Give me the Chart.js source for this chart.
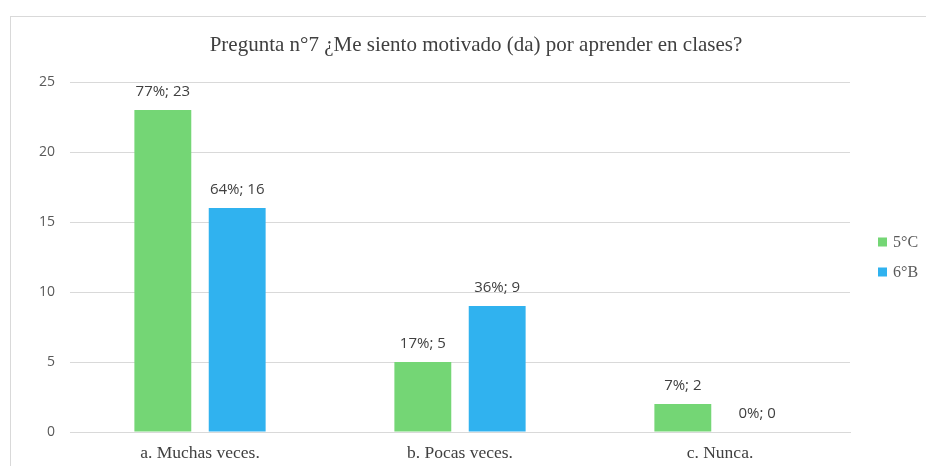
<!DOCTYPE html>
<html>
<head>
<meta charset="utf-8">
<script src="https://cdn.jsdelivr.net/npm/chart.js@4/dist/chart.umd.min.js"></script>
<style>
html,body{margin:0;padding:0;background:#fff;width:926px;height:466px;overflow:hidden;}
#frame{position:absolute;left:10px;top:16px;width:940px;height:470px;border:1px solid #d9d9d9;}
#wrap{position:absolute;left:0;top:0;width:926px;height:480px;}
</style>
</head>
<body>
<div id="frame"></div>
<div id="wrap"><canvas id="c" width="926" height="480"></canvas></div>
<script>
const categories = ["a. Muchas veces.", "b. Pocas veces.", "c. Nunca."];
const series5C = [23, 5, 2];
const series6B = [16, 9, 0];
const pct5C = [77, 17, 7];
const pct6B = [64, 36, 0];
const seriesNames = ["5°C", "6°B"];
const seriesColors = ["#74D675", "#30B2EF"];
const yTicks = [0, 5, 10, 15, 20, 25];
const titleText = "Pregunta n°7 ¿Me siento motivado (da) por aprender en clases?";

const SERIF = '"Liberation Serif", "Times New Roman", serif';
const SANS = '"Open Sans", "Liberation Sans", sans-serif';

const extras = {
  id: 'extras',
  afterDatasetsDraw(chart) {
    const ctx = chart.ctx;
    const pcts = [pct5C, pct6B];
    const area = chart.chartArea;
    ctx.save();
    // value labels
    ctx.font = '15px ' + SANS;
    ctx.fillStyle = '#404040';
    ctx.textAlign = 'center';
    ctx.textBaseline = 'middle';
    chart.data.datasets.forEach((ds, i) => {
      const meta = chart.getDatasetMeta(i);
      meta.data.forEach((bar, j) => {
        ctx.fillText(pcts[i][j] + '%; ' + ds.data[j], bar.x, bar.y - 18);
      });
    });
    // title
    ctx.font = '21px ' + SERIF;
    ctx.fillStyle = '#404040';
    ctx.textAlign = 'center';
    ctx.fillText(titleText, 476, 45);
    // legend
    const cy = (area.top + area.bottom) / 2;
    ctx.font = '16px ' + SERIF;
    ctx.textAlign = 'left';
    chart.data.datasets.forEach((ds, i) => {
      const y = cy - 15 + i * 30;
      ctx.fillStyle = ds.backgroundColor;
      ctx.fillRect(area.right + 28, y - 4.5, 9, 9);
      ctx.fillStyle = '#595959';
      ctx.fillText(ds.label, area.right + 43, y + 1);
    });
    ctx.restore();
  }
};

new Chart(document.getElementById('c'), {
  type: 'bar',
  data: {
    labels: categories,
    datasets: [
      { label: seriesNames[0], data: series5C, backgroundColor: seriesColors[0], categoryPercentage: 0.572, barPercentage: 0.765 },
      { label: seriesNames[1], data: series6B, backgroundColor: seriesColors[1], categoryPercentage: 0.572, barPercentage: 0.765 }
    ]
  },
  options: {
    responsive: false,
    animation: false,
    devicePixelRatio: 1,
    layout: { padding: { left: 24, right: 76, top: 82, bottom: 5 } },
    plugins: {
      title: { display: false },
      legend: { display: false },
      tooltip: { enabled: false }
    },
    scales: {
      x: {
        grid: { display: false, drawTicks: false },
        border: { color: '#d9d9d9' },
        ticks: {
          font: { family: SERIF, size: 17.5 },
          color: '#404040',
          padding: 11
        }
      },
      y: {
        min: 0, max: 25,
        afterBuildTicks(axis) { axis.ticks = yTicks.map(v => ({ value: v })); },
        grid: { color: '#d9d9d9', drawTicks: false },
        border: { display: false },
        ticks: {
          font: { family: SANS, size: 14 },
          color: '#595959',
          padding: 15
        }
      }
    }
  },
  plugins: [extras]
});
</script>
</body>
</html>
